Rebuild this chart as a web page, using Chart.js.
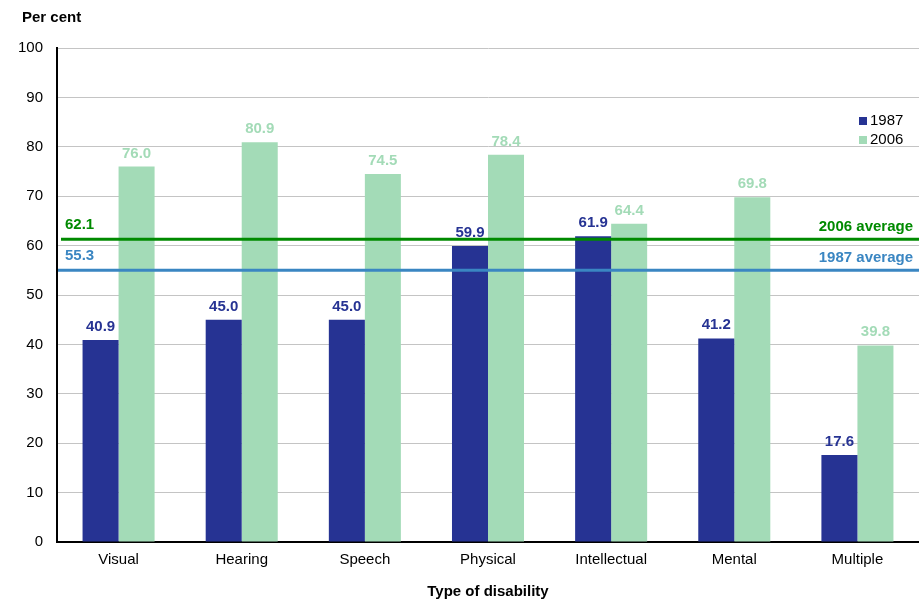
<!DOCTYPE html>
<html><head><meta charset="utf-8">
<script src="https://cdn.jsdelivr.net/npm/chart.js@4/dist/chart.umd.min.js"></script>
<style>html,body{margin:0;padding:0;background:#fff}#wrap{width:919px;height:601px;position:relative}</style>
</head><body><div id="wrap"><canvas id="c"></canvas></div>
<script>
const categories = ["Visual","Hearing","Speech","Physical","Intellectual","Mental","Multiple"];
const values1987 = [40.9,45.0,45.0,59.9,61.9,41.2,17.6];
const values2006 = [76.0,80.9,74.5,78.4,64.4,69.8,39.8];
const seriesNames = ["1987","2006"];
// average labels as printed, and the level at which each line is drawn in the picture
const avgNames = ["1987 average","2006 average"];
const avgLabels = [55.3, 62.1];
const avgLevels = [55.0, 61.3];
const yTicks = [0,10,20,30,40,50,60,70,80,90,100];

const BLUE = '#263393', GREEN = '#a3dbb7', AVG_G = '#008a00', AVG_B = '#3a86c2';
const FONT = '"Liberation Sans", Arial, sans-serif';

const overlay = {
  id:'overlay',
  afterDatasetsDraw(chart){
    const ctx = chart.ctx, ca = chart.chartArea, y = chart.scales.y;
    ctx.save();
    ctx.font = 'bold 15px '+FONT;
    ctx.textAlign='center'; ctx.textBaseline='alphabetic';
    chart.data.datasets.forEach((ds,i)=>{
      const meta = chart.getDatasetMeta(i);
      meta.data.forEach((bar,j)=>{
        ctx.fillStyle = ds.backgroundColor;
        ctx.fillText(ds.data[j].toFixed(1), bar.x, bar.y-9);
      });
    });
    const cols = [AVG_B, AVG_G];
    avgLevels.forEach((v,i)=>{
      const py = y.getPixelForValue(v);
      const col = cols[i];
      ctx.strokeStyle=col; ctx.lineWidth=3;
      ctx.beginPath(); ctx.moveTo(ca.left+(i===1?4:1),py); ctx.lineTo(ca.right,py); ctx.stroke();
      ctx.fillStyle=col; ctx.font='bold 15px '+FONT; ctx.textBaseline='middle';
      ctx.textAlign='left'; ctx.fillText(avgLabels[i].toFixed(1), ca.left+8, py-14);
      ctx.textAlign='right'; ctx.fillText(avgNames[i], ca.right-6, py-12);
    });
    const items=[[BLUE,seriesNames[0]],[GREEN,seriesNames[1]]];
    ctx.font='15px '+FONT; ctx.textAlign='left'; ctx.textBaseline='middle';
    items.forEach(([c,t],k)=>{
      const ly = 121 + k*19;
      ctx.fillStyle=c; ctx.fillRect(859, ly-4, 8, 8);
      ctx.fillStyle='#000'; ctx.fillText(t, 870, ly);
    });
    ctx.restore();
  }
};

new Chart(document.getElementById('c'), {
  type:'bar',
  data:{
    labels:categories,
    datasets:[
      {label:seriesNames[0], data:values1987, backgroundColor:BLUE, categoryPercentage:0.585, barPercentage:1.0},
      {label:seriesNames[1], data:values2006, backgroundColor:GREEN, categoryPercentage:0.585, barPercentage:1.0}
    ]
  },
  options:{
    responsive:true, maintainAspectRatio:false, animation:false,
    layout:{padding:{top:48,right:0,bottom:0,left:0}},
    plugins:{legend:{display:false}, tooltip:{enabled:false}, title:{display:false}},
    scales:{
      x:{
        grid:{display:false, drawTicks:false},
        border:{color:'#000', width:2},
        ticks:{color:'#000', font:{family:FONT,size:15}, padding:9},
        title:{display:true, text:'Type of disability', color:'#000', font:{family:FONT,size:15,weight:'bold'}, padding:{top:12,bottom:0}},
        afterFit(s){ s.height = 59; }
      },
      y:{
        min:0, max:100,
        afterBuildTicks(s){ s.ticks = yTicks.map(v=>({value:v})); },
        grid:{color:'#c4c4c4', lineWidth:1, drawTicks:false},
        border:{color:'#000', width:2},
        ticks:{color:'#000', font:{family:FONT,size:15}, padding:14},
        afterFit(s){ s.width = 57; }
      }
    }
  },
  plugins:[overlay, {
    id:'perCent',
    afterDraw(chart){
      const ctx=chart.ctx; ctx.save();
      ctx.font='bold 15px '+FONT; ctx.fillStyle='#000'; ctx.textBaseline='middle'; ctx.textAlign='left';
      ctx.fillText('Per cent', 22, 18);
      ctx.restore();
    }
  }]
});
</script></body></html>
